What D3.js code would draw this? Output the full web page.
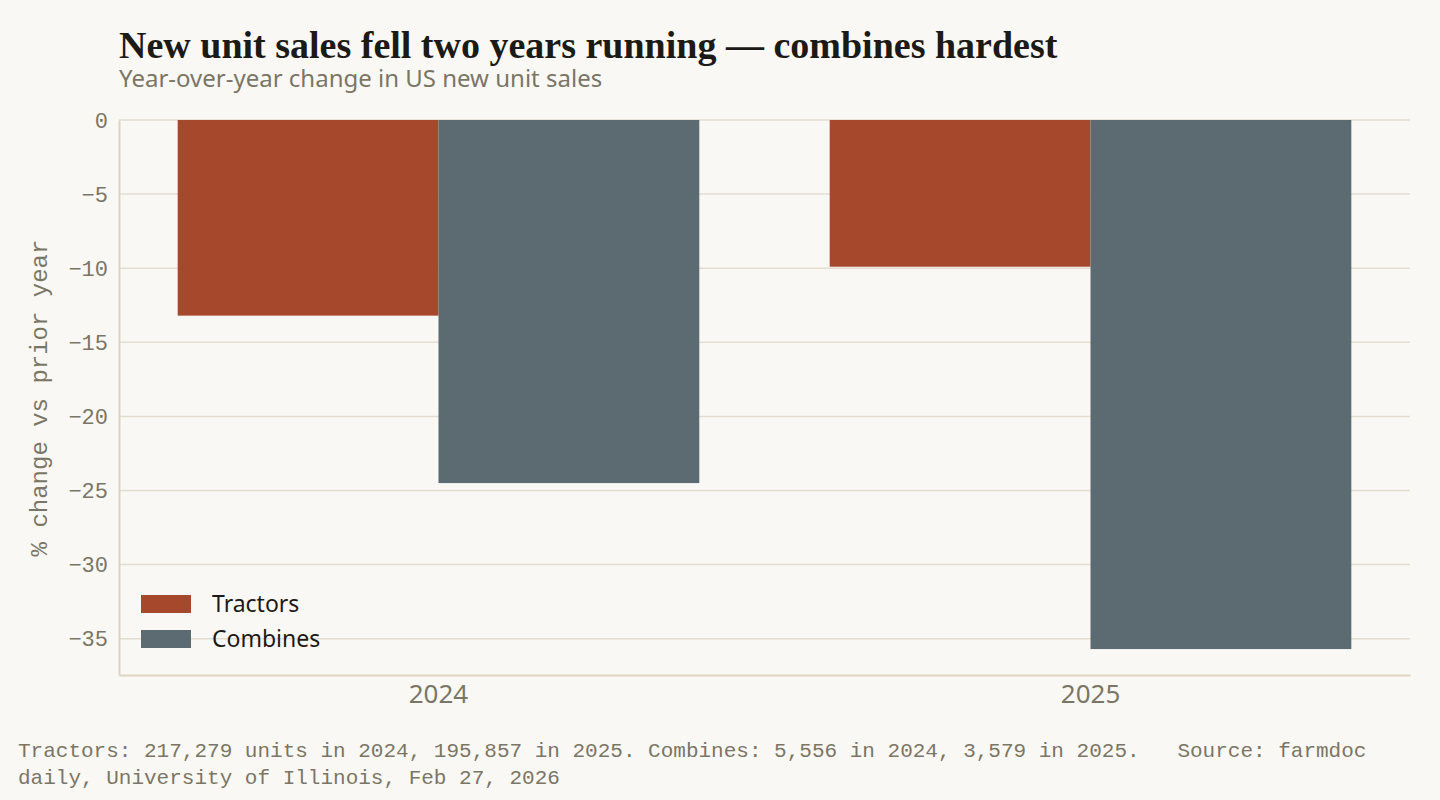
<!DOCTYPE html>
<html><head><meta charset="utf-8">
<script src="https://cdn.jsdelivr.net/npm/d3@7"></script>
<style>body{margin:0;background:#faf8f4}</style></head>
<body><svg id="c" width="1440" height="800"></svg>
<script>
const years = ["2024","2025"];
const seriesNames = ["Tractors","Combines"];
const tractors = [-13.2, -9.9];
const combines = [-24.5, -35.7];
const yTicks = [0,-5,-10,-15,-20,-25,-30,-35];
const colors = ["#a5482b","#5c6a72"];

const svg = d3.select("#c");
svg.append("rect").attr("width",1440).attr("height",800).attr("fill","#faf8f4");
const L=119,R=1410,T=120,B=675;
const x = d3.scaleBand().domain(years).range([L,R]).paddingInner(0.2).paddingOuter(0.09);
const x1 = d3.scaleBand().domain(seriesNames).range([0,x.bandwidth()]);
const y = d3.scaleLinear().domain([0,-37.45]).range([T,B]);

svg.append("g").selectAll("line").data(yTicks).join("line")
 .attr("x1",L).attr("x2",R).attr("y1",d=>y(d)).attr("y2",d=>y(d))
 .attr("stroke","#e3ddd0").attr("stroke-width",1.5);

const vals=[tractors,combines];
seriesNames.forEach((s,si)=>{
 svg.append("g").selectAll("rect").data(years).join("rect")
  .attr("x",d=>x(d)+x1(s)).attr("width",x1.bandwidth())
  .attr("y",y(0)).attr("height",(d,i)=>y(vals[si][i])-y(0))
  .attr("fill",colors[si]);
});

const ya = svg.append("g").attr("transform",`translate(${L},0)`)
 .call(d3.axisLeft(y).tickValues(yTicks).tickSize(0).tickPadding(11).tickFormat(d=>d===0?"0":"\u2212"+Math.abs(d)));
ya.select(".domain").attr("stroke","#ddd3c2").attr("stroke-width",2);
ya.selectAll("text").attr("font-family","Liberation Mono, DejaVu Sans Mono, monospace").attr("font-size",22).attr("fill","#7a7666");
const xa = svg.append("g").attr("transform",`translate(0,${B})`)
 .call(d3.axisBottom(x).tickSize(0).tickPadding(10));
xa.select(".domain").attr("stroke","#ddd3c2").attr("stroke-width",2);
xa.selectAll("text").attr("font-family","Noto Sans, sans-serif").attr("font-size",26).attr("fill","#7a7666");

svg.append("text").attr("transform","translate(47,398) rotate(-90)").attr("text-anchor","middle")
 .attr("font-family","Liberation Mono, monospace").attr("font-size",24).attr("fill","#7a7666").text("% change vs prior year");

svg.append("text").attr("x",119).attr("y",58).attr("font-family","Liberation Serif, DejaVu Serif, serif").attr("font-weight","bold")
 .attr("font-size",38).attr("fill","#1c1a17").text("New unit sales fell two years running \u2014 combines hardest");
svg.append("text").attr("x",119).attr("y",87).attr("font-family","Noto Sans, sans-serif")
 .attr("font-size",24).attr("fill","#7a7666").text("Year-over-year change in US new unit sales");

seriesNames.forEach((s,i)=>{
 svg.append("rect").attr("x",141).attr("y",595+i*35).attr("width",50).attr("height",18).attr("fill",colors[i]);
 svg.append("text").attr("x",212).attr("y",612+i*35).attr("font-family","Noto Sans, sans-serif").attr("font-size",23).attr("fill","#1c1a17").text(s);
});

const foot=["Tractors: 217,279 units in 2024, 195,857 in 2025. Combines: 5,556 in 2024, 3,579 in 2025.   Source: farmdoc","daily, University of Illinois, Feb 27, 2026"];
foot.forEach((t,i)=>svg.append("text").attr("x",18).attr("y",757+i*27).attr("xml:space","preserve")
 .attr("font-family","Liberation Mono, monospace").attr("font-size",21).attr("fill","#7a7666").text(t));
</script></body></html>
